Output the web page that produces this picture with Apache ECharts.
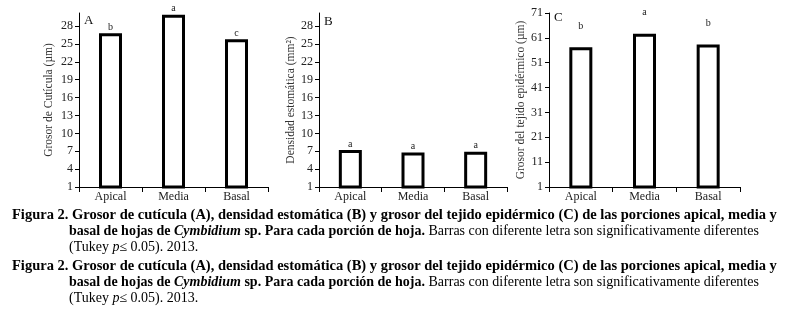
<!DOCTYPE html>
<html>
<head>
<meta charset="utf-8">
<script src="https://cdn.jsdelivr.net/npm/echarts@6/dist/echarts.min.js"></script>
<style>
  html, body { margin: 0; padding: 0; background: #fff; }
  #main { width: 787px; height: 320px; }
</style>
</head>
<body>
<div id="main"></div>
<script>
// data
var categories = ['Apical', 'Media', 'Basal'];
var cuticula = [26.8, 29.9, 25.8];
var cuticulaLetras = ['b', 'a', 'c'];
var densidad = [7.2, 6.8, 6.9];
var densidadLetras = ['a', 'a', 'a'];
var epidermico = [57.2, 62.7, 58.3];
var epidermicoLetras = ['b', 'a', 'b'];
var ticksAB = [1, 4, 7, 10, 13, 16, 19, 22, 25, 28];
var ticksC = [1, 11, 21, 31, 41, 51, 61, 71];

var serif = '"Liberation Serif", "DejaVu Serif", serif';
var myChart = echarts.init(document.getElementById('main'));

function xAxisFor(idx) {
    return {
        type: 'category',
        gridIndex: idx,
        data: categories,
        axisLine: { lineStyle: { color: '#000', width: 1 } },
        axisTick: { show: true, length: 5, lineStyle: { color: '#000' } },
        axisLabel: { color: '#222', fontFamily: serif, fontSize: 12, margin: 4 }
    };
}

function yAxisFor(idx, name, max, ticks, gap) {
    return {
        type: 'value',
        gridIndex: idx,
        min: 1,
        max: max,
        name: name,
        nameLocation: 'middle',
        nameGap: gap,
        nameTextStyle: { color: '#333', fontFamily: serif, fontSize: 11.5 },
        splitLine: { show: false },
        axisLine: { show: true, lineStyle: { color: '#000', width: 1 } },
        axisTick: { show: true, length: 4, customValues: ticks, lineStyle: { color: '#000' } },
        axisLabel: { color: '#222', fontFamily: serif, fontSize: 12, margin: 6, customValues: ticks }
    };
}

function barFor(idx, data, letters, dist) {
    return {
        type: 'bar',
        xAxisIndex: idx,
        yAxisIndex: idx,
        data: data,
        barWidth: 23,
        itemStyle: { color: '#fff', borderColor: '#000', borderWidth: 3 },
        label: {
            show: true,
            position: 'top',
            distance: dist,
            color: '#222',
            fontFamily: serif,
            fontSize: 10,
            formatter: function (p) { return letters[p.dataIndex]; }
        }
    };
}

function richFor(size) {
    return {
        b: { fontFamily: serif, fontSize: size, fontWeight: 'bold', color: '#000' },
        bi: { fontFamily: serif, fontSize: size, fontWeight: 'bold', fontStyle: 'italic', color: '#000' },
        r: { fontFamily: serif, fontSize: size, color: '#000' },
        i: { fontFamily: serif, fontSize: size, fontStyle: 'italic', color: '#000' }
    };
}
var line1 = '{b|Figura 2. Grosor de cutícula (A), densidad estomática (B) y grosor del tejido epidérmico (C) de las porciones apical, media y}';
var line2 = '{b|basal de hojas de }{bi|Cymbidium}{b| sp. Para cada porción de hoja.}{r| Barras con diferente letra son significativamente diferentes}';
var line3 = '{r|(Tukey }{i|p}{r|≤ 0.05). 2013.}';

function capText(x, y, txt, size) {
    return {
        type: 'text',
        x: x,
        y: y,
        style: { text: txt, rich: richFor(size), verticalAlign: 'middle', fill: '#000', font: size + 'px ' + serif }
    };
}

function panelLetter(x, y, t) {
    return { type: 'text', x: x, y: y, style: { text: t, fill: '#111', font: '13px ' + serif } };
}

var option = {
    animation: false,
    grid: [
        { left: 79, top: 13, width: 189, height: 174 },
        { left: 319, top: 13, width: 188, height: 174 },
        { left: 549, top: 13, width: 191, height: 174 }
    ],
    xAxis: [xAxisFor(0), xAxisFor(1), xAxisFor(2)],
    yAxis: [
        yAxisFor(0, 'Grosor de Cutícula (µm)', 30.2, ticksAB, 24),
        yAxisFor(1, 'Densidad estomática (mm²)', 30.2, ticksAB, 22),
        yAxisFor(2, 'Grosor del tejido epidérmico (µm)', 71, ticksC, 21)
    ],
    series: [
        barFor(0, cuticula, cuticulaLetras, 1),
        barFor(1, densidad, densidadLetras, 1),
        barFor(2, epidermico, epidermicoLetras, 16)
    ],
    graphic: [
        panelLetter(84, 14, 'A'),
        panelLetter(324, 15, 'B'),
        panelLetter(554, 11, 'C'),
        capText(12, 215, line1, 14.5),
        capText(69, 231, line2, 14),
        capText(69, 247, line3, 14),
        capText(12, 266, line1, 14.5),
        capText(69, 282, line2, 14),
        capText(69, 298, line3, 14)
    ]
};

myChart.setOption(option);
</script>
</body>
</html>
